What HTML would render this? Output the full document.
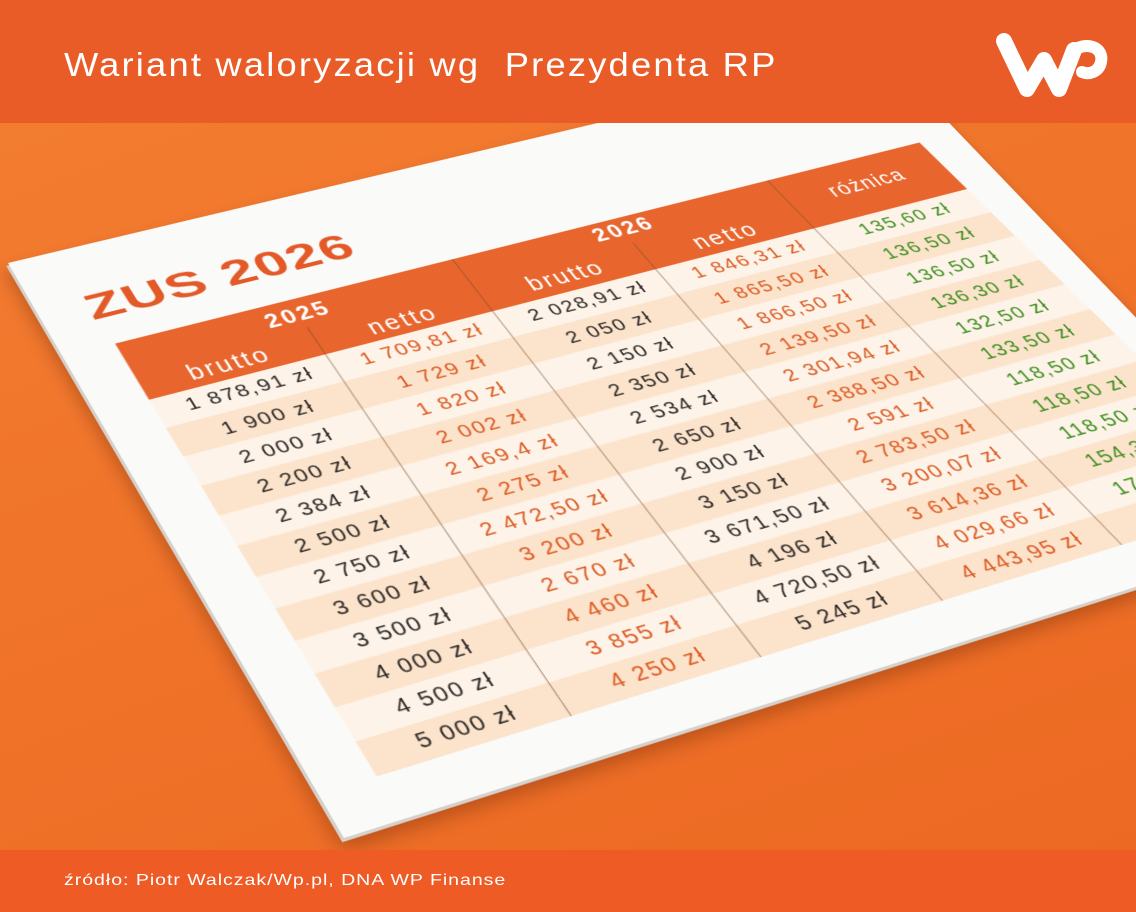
<!DOCTYPE html>
<html>
<head>
<meta charset="utf-8">
<style>
html,body{margin:0;padding:0;overflow:hidden;width:1136px;height:912px;}
body{font-family:"Liberation Sans",sans-serif;}
#wrap{position:absolute;left:0;top:0;width:1136px;height:912px;overflow:hidden;
  background:linear-gradient(160deg,#f37e32 0%,#f0742a 45%,#ec6822 100%);}
#paper{position:absolute;left:0;top:0;width:960px;height:660px;background:#fafaf9;
  transform-origin:0 0;
  transform:matrix3d(1.01764,-0.210125,0,0.00011893,0.422015,0.659106,0,-0.00025311,0,0,1,0,8,263,0,1);
  box-shadow:-3px 3px 0 #d6d0ca,-6px 10px 16px rgba(90,30,0,.35);}
#paper svg{position:absolute;left:0;top:0;}
#top{position:absolute;left:0;top:0;width:1136px;height:123px;background:#ea5c27;}
#title{position:absolute;left:64px;top:48px;font-size:33px;line-height:33px;color:#fff;
  letter-spacing:2px;white-space:nowrap;transform:scaleX(1.1);transform-origin:0 0;}
#foot{position:absolute;left:0;top:850px;width:1136px;height:62px;background:#ee5b25;}
#src{position:absolute;left:64px;top:873px;font-size:16px;line-height:16px;color:#fff;
  letter-spacing:0.8px;white-space:nowrap;transform:scaleX(1.22);transform-origin:0 0;}
#logo{position:absolute;left:0;top:0;}
.v{font-family:"Liberation Sans",sans-serif;font-size:21px;letter-spacing:1.8px;text-anchor:middle;dominant-baseline:central;}
.a{fill:#2e2a28;}
.o{fill:#dc5a22;}
.g{fill:#3e8e20;}
.h{font-family:"Liberation Sans",sans-serif;fill:#fff;text-anchor:middle;dominant-baseline:central;}
</style>
</head>
<body>
<div id="wrap">

<div id="paper">
<svg width="960" height="660" viewBox="0 0 960 660">
  <defs>
    <clipPath id="cb"><polygon points="50.5,197 917,197 937.8,618 50.5,618"/></clipPath>
  </defs>
  <text x="0" y="0" transform="translate(44,92) scale(1.3,1)" font-family="Liberation Sans, sans-serif" font-weight="bold" font-size="44" letter-spacing="1" fill="#e35a28">ZUS 2026</text>

  <polygon points="50.5,125 913.4,125 917,197 50.5,197" fill="#e8662e"/>

  <g clip-path="url(#cb)">
    <rect x="40" y="197" width="910" height="421" fill="#fdf3e8"/>
    <rect x="40" y="232.08" width="910" height="35.08" fill="#fce3cb"/>
    <rect x="40" y="302.25" width="910" height="35.08" fill="#fce3cb"/>
    <rect x="40" y="372.42" width="910" height="35.08" fill="#fce3cb"/>
    <rect x="40" y="442.58" width="910" height="35.08" fill="#fce3cb"/>
    <rect x="40" y="512.75" width="910" height="35.08" fill="#fce3cb"/>
    <rect x="40" y="582.92" width="910" height="35.08" fill="#fce3cb"/>
  </g>

  <g stroke="rgba(110,70,45,0.45)" stroke-width="1.3" fill="none">
    <line x1="222.7" y1="161" x2="224.5" y2="618"/>
    <line x1="391.5" y1="125" x2="402.5" y2="618"/>
    <line x1="564.7" y1="159.5" x2="581.2" y2="618"/>
    <line x1="736.8" y1="125" x2="766.2" y2="618"/>
  </g>

  <text class="h" x="222" y="144" font-size="24" font-weight="bold" letter-spacing="2.5">2025</text>
  <text class="h" x="566" y="140" font-size="24" font-weight="bold" letter-spacing="2.5">2026</text>
  <text class="h" x="136" y="179" font-size="25" letter-spacing="2.5">brutto</text>
  <text class="h" x="309" y="180" font-size="25" letter-spacing="2.5">netto</text>
  <text class="h" x="481" y="177" font-size="25" letter-spacing="2.5">brutto</text>
  <text class="h" x="654" y="178" font-size="25" letter-spacing="2.5">netto</text>
  <text class="h" x="828" y="159" font-size="23" letter-spacing="1.5">różnica</text>

  <g class="v a">
    <text x="140" y="214.5">1 878,91 zł</text>
    <text x="140" y="249.6">1 900 zł</text>
    <text x="140" y="284.7">2 000 zł</text>
    <text x="140" y="319.8">2 200 zł</text>
    <text x="140" y="354.9">2 384 zł</text>
    <text x="140" y="390.0">2 500 zł</text>
    <text x="140" y="425.0">2 750 zł</text>
    <text x="140" y="460.1">3 600 zł</text>
    <text x="140" y="495.2">3 500 zł</text>
    <text x="140" y="530.3">4 000 zł</text>
    <text x="140" y="565.4">4 500 zł</text>
    <text x="140" y="600.5">5 000 zł</text>
  </g>

  <g class="v o">
    <text x="311.2" y="214.5">1 709,81 zł</text>
    <text x="311.7" y="249.6">1 729 zł</text>
    <text x="312.1" y="284.7">1 820 zł</text>
    <text x="312.6" y="319.8">2 002 zł</text>
    <text x="313.1" y="354.9">2 169,4 zł</text>
    <text x="313.5" y="390.0">2 275 zł</text>
    <text x="314.0" y="425.0">2 472,50 zł</text>
    <text x="314.4" y="460.1">3 200 zł</text>
    <text x="314.9" y="495.2">2 670 zł</text>
    <text x="315.4" y="530.3">4 460 zł</text>
    <text x="315.8" y="565.4">3 855 zł</text>
    <text x="316.3" y="600.5">4 250 zł</text>
  </g>

  <g class="v a">
    <text x="483.1" y="214.5">2 028,91 zł</text>
    <text x="484.1" y="249.6">2 050 zł</text>
    <text x="485.2" y="284.7">2 150 zł</text>
    <text x="486.2" y="319.8">2 350 zł</text>
    <text x="487.2" y="354.9">2 534 zł</text>
    <text x="488.3" y="390.0">2 650 zł</text>
    <text x="489.3" y="425.0">2 900 zł</text>
    <text x="490.3" y="460.1">3 150 zł</text>
    <text x="491.3" y="495.2">3 671,50 zł</text>
    <text x="492.4" y="530.3">4 196 zł</text>
    <text x="493.4" y="565.4">4 720,50 zł</text>
    <text x="494.4" y="600.5">5 245 zł</text>
  </g>

  <g class="v o">
    <text x="657.4" y="214.5">1 846,31 zł</text>
    <text x="659.1" y="249.6">1 865,50 zł</text>
    <text x="660.8" y="284.7">1 866,50 zł</text>
    <text x="662.4" y="319.8">2 139,50 zł</text>
    <text x="664.1" y="354.9">2 301,94 zł</text>
    <text x="665.8" y="390.0">2 388,50 zł</text>
    <text x="667.5" y="425.0">2 591 zł</text>
    <text x="669.2" y="460.1">2 783,50 zł</text>
    <text x="670.8" y="495.2">3 200,07 zł</text>
    <text x="672.5" y="530.3">3 614,36 zł</text>
    <text x="674.2" y="565.4">4 029,66 zł</text>
    <text x="675.9" y="600.5">4 443,95 zł</text>
  </g>

  <g class="v g">
    <text x="833.0" y="214.5">135,60 zł</text>
    <text x="834.9" y="249.6">136,50 zł</text>
    <text x="836.8" y="284.7">136,50 zł</text>
    <text x="838.7" y="319.8">136,30 zł</text>
    <text x="840.6" y="354.9">132,50 zł</text>
    <text x="842.6" y="390.0">133,50 zł</text>
    <text x="844.5" y="425.0">118,50 zł</text>
    <text x="846.4" y="460.1">118,50 zł</text>
    <text x="848.3" y="495.2">118,50 zł</text>
    <text x="850.2" y="530.3">154,38 zł</text>
    <text x="852.1" y="565.4">174,29 zł</text>
    <text x="854.0" y="600.5">188,35 zł</text>
  </g>
</svg>
</div>

<div id="top"></div>
<div id="title">Wariant waloryzacji wg&nbsp; Prezydenta RP</div>

<svg id="logo" width="1136" height="123" viewBox="0 0 1136 123">
  <path d="M1004,41 L1027,89 L1044,60 L1059,89 L1074,50" stroke="#fff" stroke-width="16" fill="none" stroke-linecap="round" stroke-linejoin="round"/>
  <path d="M1074,50 C1088,41 1104,48 1101,62 C1099,72 1089,75 1082,72" stroke="#fff" stroke-width="12" fill="none" stroke-linecap="round" stroke-linejoin="round"/>
</svg>

<div id="foot"></div>
<div id="src">źródło: Piotr Walczak/Wp.pl, DNA WP Finanse</div>

</div>
</body>
</html>
